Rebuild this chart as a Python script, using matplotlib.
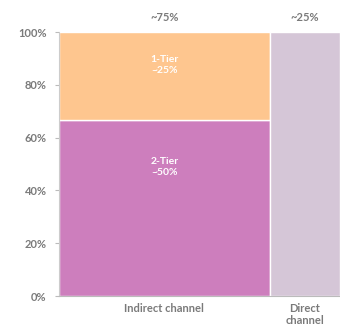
import numpy as np
import matplotlib.pyplot as plt

# channel widths (share of total) and tier shares within indirect channel
channels = ["Indirect channel", "Direct\nchannel"]
channel_share = [0.75, 0.25]
channel_labels = ["~75%", "~25%"]
tiers = ["2-Tier", "1-Tier"]
tier_share = [66.5, 33.5]          # % of indirect bar height
tier_labels = ["~50%", "~25%"]
tier_label_y = [49, 87.5]          # label position inside segments
direct_height = [100]

plt.rcParams['font.family'] = ['Lato', 'DejaVu Sans']

col_2tier = "#cd7ebd"
col_1tier = "#fec68f"
col_direct = "#d5c6d7"
txt = "#7a7a7a"

fig = plt.figure(figsize=(3.4, 3.29), dpi=100)
ax = fig.add_axes([0.1735, 0.1003, 0.8265, 0.8024])

lefts = np.concatenate([[0], np.cumsum(channel_share)[:-1]])
centers = lefts + np.array(channel_share) / 2

# indirect channel stacked
ax.bar(lefts[0], tier_share[0], width=channel_share[0], align="edge",
       color=col_2tier, edgecolor="white", linewidth=1)
ax.bar(lefts[0], tier_share[1], bottom=tier_share[0], width=channel_share[0],
       align="edge", color=col_1tier, edgecolor="white", linewidth=1)
# direct channel
ax.bar(lefts[1], direct_height[0], width=channel_share[1], align="edge",
       color=col_direct, edgecolor="white", linewidth=1)

for name, lab, y in zip(tiers, tier_labels, tier_label_y):
    ax.text(centers[0], y, name + "\n" + lab, ha="center", va="center",
            color="white", fontsize=7.5, fontweight="bold", linespacing=1.3)

for c, lab in zip(centers, channel_labels):
    ax.text(c, 103.5, lab, ha="center", va="bottom", color=txt, fontsize=8,
            fontweight="bold")

ax.set_xlim(0, 1)
ax.set_ylim(0, 100)
ax.set_yticks([0, 20, 40, 60, 80, 100])
ax.set_yticklabels([f"{v}%" for v in range(0, 101, 20)])
ax.set_xticks(centers)
ax.set_xticklabels(channels, linespacing=1.1)
ax.tick_params(axis="y", colors="#bbbbbb", labelcolor=txt, labelsize=8,
               length=3, pad=6)
ax.tick_params(axis="x", length=0, labelcolor=txt, labelsize=8, pad=5)
for lab in ax.get_xticklabels() + ax.get_yticklabels():
    lab.set_fontweight("bold")

for s in ["top", "right"]:
    ax.spines[s].set_visible(False)
ax.spines["left"].set_color("#cccccc")
ax.spines["bottom"].set_color("#bbbbbb")

fig.savefig("out.png", dpi=100)
